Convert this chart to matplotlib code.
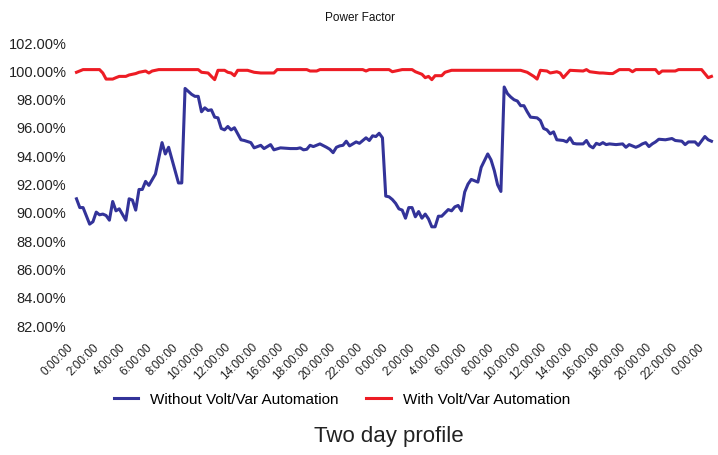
import matplotlib.pyplot as plt
import matplotlib.transforms as mtrans
import numpy as np
from matplotlib.ticker import FuncFormatter

# 15-minute interval index over two days, power factor in %
without_idx = [0, 1, 2, 4, 5, 6, 7, 8, 9, 10, 11, 12, 13, 15, 16, 17, 18, 19, 20, 21,
               22, 24, 26, 27, 28, 31, 32, 33, 35, 36, 37, 38, 39, 40, 41, 42, 43, 44, 45, 46,
               47, 48, 50, 51, 53, 54, 56, 57, 59, 60, 62, 65, 67, 68, 69, 70, 71, 72, 74, 76,
               77, 78, 79, 80, 81, 82, 83, 85, 86, 88, 89, 90, 91, 92, 93, 94, 95, 96, 97, 98,
               99, 100, 101, 102, 103, 104, 105, 106, 107, 108, 109, 110, 111, 113, 114, 115, 116, 117, 118, 119,
               120, 122, 123, 125, 126, 127, 128, 129, 130, 131, 132, 133, 134, 135, 136, 137, 138, 140, 141, 142,
               143, 144, 145, 146, 148, 149, 150, 151, 152, 154, 155, 156, 157, 158, 159, 160, 161, 162, 164, 166,
               167, 168, 170, 171, 172, 173, 174, 175, 176, 177, 179, 181, 182, 184, 185, 186, 188, 189, 191, 192,
               193]
without_pf = [90.92, 90.30, 90.30, 89.13, 89.30, 89.98, 89.79, 89.84, 89.74, 89.41, 90.73, 90.07, 90.21, 89.41, 90.92, 90.83, 90.12, 91.58, 91.58, 92.15,
              91.87, 92.67, 94.89, 94.09, 94.56, 92.04, 92.04, 98.72, 98.30, 98.16, 98.16, 97.07, 97.35, 97.16, 97.21, 96.69, 96.64, 95.89, 95.79, 96.03,
              95.79, 95.94, 95.09, 95.04, 94.89, 94.52, 94.70, 94.47, 94.75, 94.38, 94.52, 94.47, 94.47, 94.52, 94.38, 94.42, 94.70, 94.61, 94.80, 94.56,
              94.42, 94.18, 94.56, 94.66, 94.70, 94.99, 94.66, 94.94, 94.84, 95.23, 95.04, 95.37, 95.32, 95.55, 95.23, 91.11, 91.06, 90.87, 90.60, 90.21,
              90.12, 89.55, 90.30, 90.30, 89.65, 90.02, 89.55, 89.84, 89.50, 88.94, 88.94, 89.69, 89.69, 90.16, 90.07, 90.35, 90.45, 90.07, 91.40, 91.96,
              92.29, 92.10, 93.14, 94.09, 93.67, 92.91, 91.91, 91.44, 98.82, 98.35, 98.11, 97.92, 97.83, 97.50, 97.50, 97.07, 96.69, 96.64, 96.45, 95.89,
              95.79, 95.51, 95.65, 95.09, 95.04, 94.94, 95.23, 94.84, 94.80, 94.80, 95.04, 94.66, 94.52, 94.84, 94.75, 94.89, 94.75, 94.80, 94.75, 94.80,
              94.56, 94.75, 94.56, 94.66, 94.80, 94.89, 94.61, 94.80, 94.94, 95.13, 95.09, 95.18, 95.04, 94.99, 94.75, 94.94, 94.94, 94.70, 95.32, 95.09,
              94.99]

with_idx = [0, 2, 7, 8, 9, 11, 12, 13, 15, 16, 18, 19, 21, 22, 23, 25, 37, 38, 40, 41,
            42, 43, 45, 46, 47, 48, 49, 52, 54, 56, 60, 61, 70, 71, 73, 74, 87, 88, 89, 95,
            96, 99, 102, 103, 105, 106, 107, 108, 109, 111, 112, 114, 135, 137, 139, 140, 141, 143, 144, 146,
            147, 148, 150, 154, 155, 156, 159, 160, 162, 163, 165, 168, 169, 170, 176, 177, 178, 182, 183, 190,
            192, 193]
with_pf = [99.86, 100.05, 100.05, 99.81, 99.38, 99.38, 99.48, 99.57, 99.57, 99.67, 99.77, 99.86, 99.95, 99.81, 99.95, 100.05, 100.05, 99.86, 99.81, 99.57,
           99.34, 100.00, 100.00, 99.86, 99.81, 99.62, 100.00, 100.00, 99.86, 99.81, 99.81, 100.05, 100.05, 99.95, 99.95, 100.05, 100.05, 99.95, 100.05, 100.05,
           99.90, 100.05, 100.05, 99.90, 99.72, 99.48, 99.57, 99.34, 99.62, 99.62, 99.86, 100.00, 100.00, 99.86, 99.57, 99.38, 100.00, 99.95, 99.81, 99.90,
           99.81, 99.48, 100.00, 99.95, 100.05, 99.90, 99.81, 99.81, 99.77, 99.77, 100.05, 100.05, 99.90, 100.05, 100.05, 99.77, 99.95, 99.95, 100.05, 100.05,
           99.48, 99.57]

tick_hours = list(range(0, 49, 2))
tick_labels = ["%d:00:00" % (h % 24) for h in tick_hours]

plt.rcParams['font.family'] = ['Liberation Sans', 'DejaVu Sans']

fig = plt.figure(figsize=(7.18, 4.56), dpi=100)
ax = fig.add_axes([0.1003, 0.285, 0.897, 0.6207])

blue_line, = ax.plot(np.array(without_idx) * 0.25, without_pf, color='#333399', lw=2.2,
                     label='Without Volt/Var Automation')
red_line, = ax.plot(np.array(with_idx) * 0.25, with_pf, color='#ED1C24', lw=2.2,
                    label='With Volt/Var Automation')

ax.set_xlim(-0.34, 48.6)
ax.set_ylim(82, 102)
ax.set_yticks(np.arange(82, 103, 2))
ax.yaxis.set_major_formatter(FuncFormatter(lambda v, p: '%.2f%%' % v))
ax.set_xticks(tick_hours)
ax.set_xticklabels(tick_labels, rotation=45, ha='right', va='center', rotation_mode='anchor', fontsize=8.5)
ax.tick_params(axis='y', length=0, pad=4, labelsize=10.5, labelcolor='#222222')
ax.tick_params(axis='x', length=0, pad=14, labelcolor='#222222')
shift = mtrans.ScaledTranslation(-4 / 72, 0, fig.dpi_scale_trans)
for lab in ax.get_xticklabels():
    lab.set_transform(lab.get_transform() + shift)
for s in ax.spines.values():
    s.set_visible(False)

fig.text(0.501, 1 - 18 / 456, 'Power Factor', ha='center', va='center', fontsize=8.5, color='#111111')
fig.text(389 / 718, 1 - 437 / 456, 'Two day profile', ha='center', va='center', fontsize=16, color='#222222')
fig.legend(handles=[blue_line, red_line], loc='center', bbox_to_anchor=(342 / 718, 1 - 400 / 456),
           ncol=2, frameon=False, fontsize=11, handlelength=1.6, handletextpad=0.8, columnspacing=1.8)

fig.savefig('out.png', dpi=100)
